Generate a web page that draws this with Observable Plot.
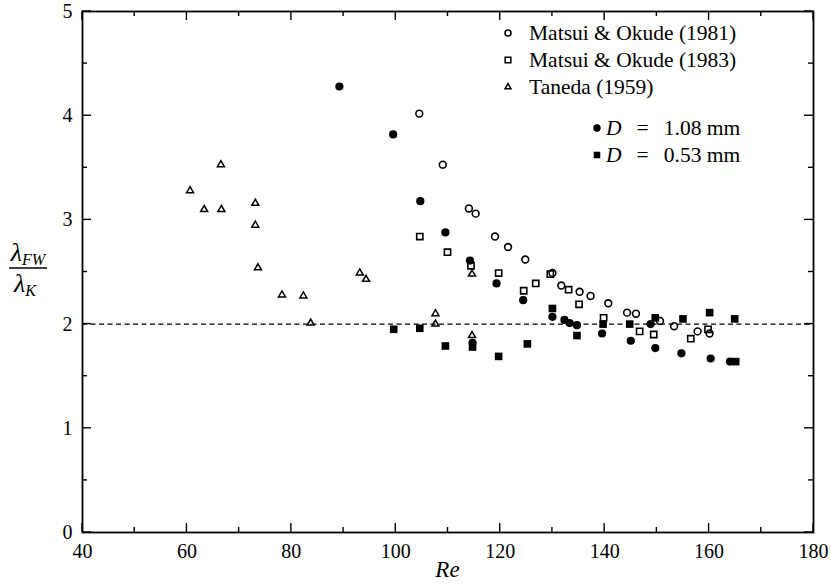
<!DOCTYPE html>
<html><head><meta charset="utf-8">
<script src="https://cdn.jsdelivr.net/npm/d3@7"></script>
<script src="https://cdn.jsdelivr.net/npm/@observablehq/plot@0.6"></script>
<style>body{margin:0;background:#fff}#chart svg{display:block}</style>
</head><body><div id="chart"></div>
<script>
// Matsui & Okude (1981) — open circles
const m1981Re  = [104.5,109,114,115.3,119,121.5,124.8,130,131.7,135.2,137.3,140.7,144.3,146,150.6,153.3,157.8,160.1];
const m1981Val = [4.02,3.53,3.11,3.06,2.84,2.74,2.62,2.49,2.37,2.31,2.27,2.20,2.11,2.10,2.03,1.98,1.93,1.91];
// Matsui & Okude (1983) — open squares
const m1983Re  = [104.6,109.9,114.4,119.7,124.5,126.8,129.6,133.1,135.1,139.8,146.7,149.4,156.5,159.8];
const m1983Val = [2.84,2.69,2.56,2.49,2.32,2.39,2.48,2.33,2.19,2.06,1.93,1.90,1.86,1.95];
// Taneda (1959) — open triangles
const tanedaRe  = [60.6,63.3,66.5,66.6,73.1,73.1,73.6,78.2,82.3,83.7,93.1,94.3,107.6,107.6,114.6,114.6];
const tanedaVal = [3.28,3.10,3.53,3.10,3.16,2.95,2.54,2.28,2.27,2.01,2.49,2.43,2.10,2.00,2.48,1.89];
// D = 1.08 mm — filled circles
const d108Re  = [89.2,99.5,104.7,109.5,114.2,119.3,124.4,130,132.3,133.3,134.7,139.5,145,148.8,149.7,154.7,160.3,164,114.7];
const d108Val = [4.28,3.82,3.18,2.88,2.61,2.39,2.23,2.07,2.04,2.01,1.99,1.91,1.84,2.0,1.77,1.72,1.67,1.64,1.82];
// D = 0.53 mm — filled squares
const d053Re  = [99.6,104.6,109.5,114.7,119.7,125.2,130,134.7,139.7,144.8,149.7,155,160.1,164.9,165.1];
const d053Val = [1.95,1.96,1.79,1.78,1.69,1.81,2.15,1.89,2.0,2.0,2.06,2.05,2.11,2.05,1.64];

const xMajor = [40,60,80,100,120,140,160,180];
const xMinor = [50,70,90,110,130,150,170];
const yMajor = [0,1,2,3,4,5];
const yMinor = [0.5,1.5,2.5,3.5,4.5];
const refLine = [2];

const legendSources = ["Matsui & Okude (1981)","Matsui & Okude (1983)","Taneda (1959)"];
const legendDiams = ["1.08","0.53"];

const pts = (re, v) => re.map((r, i) => ({re: r, v: v[i]}));
const W = 831, H = 587, mL = 82, mR = 18, mT = 11, mB = 55;
const serif = "'Liberation Serif','Times New Roman',serif";

const plot = Plot.plot({
  width: W, height: H,
  marginLeft: mL, marginRight: mR, marginTop: mT, marginBottom: mB,
  style: {fontFamily: serif, fontSize: "20px", color: "black", background: "white"},
  x: {domain: [40,180], ticks: xMajor, tickSize: 0, tickPadding: 11, tickFormat: d3.format("d"), label: null},
  y: {domain: [0,5], ticks: yMajor, tickSize: 0, tickPadding: 10, tickFormat: d3.format("d"), label: null},
  marks: [
    Plot.ruleY(refLine, {stroke: "black", strokeWidth: 1.3, strokeDasharray: "5,3.5"}),
    Plot.dot(pts(tanedaRe, tanedaVal), {x: "re", y: "v", symbol: "triangle", r: 2.6, stroke: "black", strokeWidth: 1.5, fill: "none"}),
    Plot.dot(pts(m1981Re, m1981Val), {x: "re", y: "v", symbol: "circle", r: 3.4, stroke: "black", strokeWidth: 1.6, fill: "none"}),
    Plot.dot(pts(m1983Re, m1983Val), {x: "re", y: "v", symbol: "square", r: 3.5, stroke: "black", strokeWidth: 1.6, fill: "none"}),
    Plot.dot(pts(d108Re, d108Val), {x: "re", y: "v", symbol: "circle", r: 4.1, fill: "black", stroke: "none"}),
    Plot.dot(pts(d053Re, d053Val), {x: "re", y: "v", symbol: "square", r: 4.3, fill: "black", stroke: "none"}),
    Plot.frame({stroke: "black", strokeWidth: 1.8})
  ]
});
document.getElementById("chart").appendChild(plot);

const svg = d3.select(plot);
const sx = plot.scale("x"), sy = plot.scale("y");
const fx = sx.apply ? (v => sx.apply(v)) : d3.scaleLinear(sx.domain, sx.range);
const fy = sy.apply ? (v => sy.apply(v)) : d3.scaleLinear(sy.domain, sy.range);
const frameTop = mT, frameBottom = H - mB, frameLeft = mL, frameRight = W - mR;

// inward ticks on all four sides
const tg = svg.append("g").attr("stroke", "black").attr("stroke-width", 1.4);
const xt = (vals, len) => vals.forEach(v => {
  const x = fx(v);
  tg.append("line").attr("x1", x).attr("x2", x).attr("y1", frameBottom).attr("y2", frameBottom - len);
  tg.append("line").attr("x1", x).attr("x2", x).attr("y1", frameTop).attr("y2", frameTop + len);
});
const yt = (vals, len) => vals.forEach(v => {
  const y = fy(v);
  tg.append("line").attr("y1", y).attr("y2", y).attr("x1", frameLeft).attr("x2", frameLeft + len);
  tg.append("line").attr("y1", y).attr("y2", y).attr("x1", frameRight).attr("x2", frameRight - len);
});
xt(xMajor, 9); xt(xMinor, 5); yt(yMajor, 9); yt(yMinor, 5);

// x label
svg.append("text").attr("x", (frameLeft + frameRight) / 2).attr("y", 577).attr("text-anchor", "middle")
  .attr("font-family", serif).attr("font-style", "italic").attr("font-size", 23).attr("fill", "black").text("Re");

// y label: fraction lambda_FW / lambda_K
const yl = svg.append("g").attr("font-family", serif).attr("font-style", "italic").attr("fill", "black");
const num = yl.append("text").attr("x", 28).attr("y", 261).attr("text-anchor", "middle").attr("font-size", 26);
num.append("tspan").text("λ");
num.append("tspan").attr("font-size", 16).attr("dy", 4).text("FW");
yl.append("line").attr("x1", 9).attr("x2", 47).attr("y1", 268).attr("y2", 268).attr("stroke", "black").attr("stroke-width", 1.3);
const den = yl.append("text").attr("x", 25).attr("y", 292).attr("text-anchor", "middle").attr("font-size", 26);
den.append("tspan").text("λ");
den.append("tspan").attr("font-size", 16).attr("dy", 4).text("K");

// legend
const lg = svg.append("g").attr("font-family", serif).attr("font-size", 21.5).attr("fill", "black").attr("text-anchor", "start");
const sym = (type, r) => d3.symbol(type, Math.PI * r * r)();
const rows = [
  {y: 33, path: sym(d3.symbolCircle, 3.0)},
  {y: 60, path: sym(d3.symbolSquare, 3.2)},
  {y: 87, path: sym(d3.symbolTriangle, 2.2)}
];
rows.forEach((r, i) => {
  lg.append("path").attr("d", r.path).attr("transform", `translate(508,${r.y})`)
    .attr("fill", "none").attr("stroke", "black").attr("stroke-width", 1.5);
  lg.append("text").attr("x", 529).attr("y", r.y + 7).attr("text-anchor", "start").text(legendSources[i]);
});
const rows2 = [
  {y: 128, path: sym(d3.symbolCircle, 3.7)},
  {y: 155, path: sym(d3.symbolSquare, 3.7)}
];
rows2.forEach((r, i) => {
  lg.append("path").attr("d", r.path).attr("transform", `translate(597,${r.y})`).attr("fill", "black");
  const t = lg.append("text").attr("x", 606).attr("y", r.y + 7).attr("text-anchor", "start");
  t.append("tspan").attr("font-style", "italic").text("D");
  t.append("tspan").text("\u2002\u2009=\u2002\u2009" + legendDiams[i] + " mm");
});
</script>
</body></html>
